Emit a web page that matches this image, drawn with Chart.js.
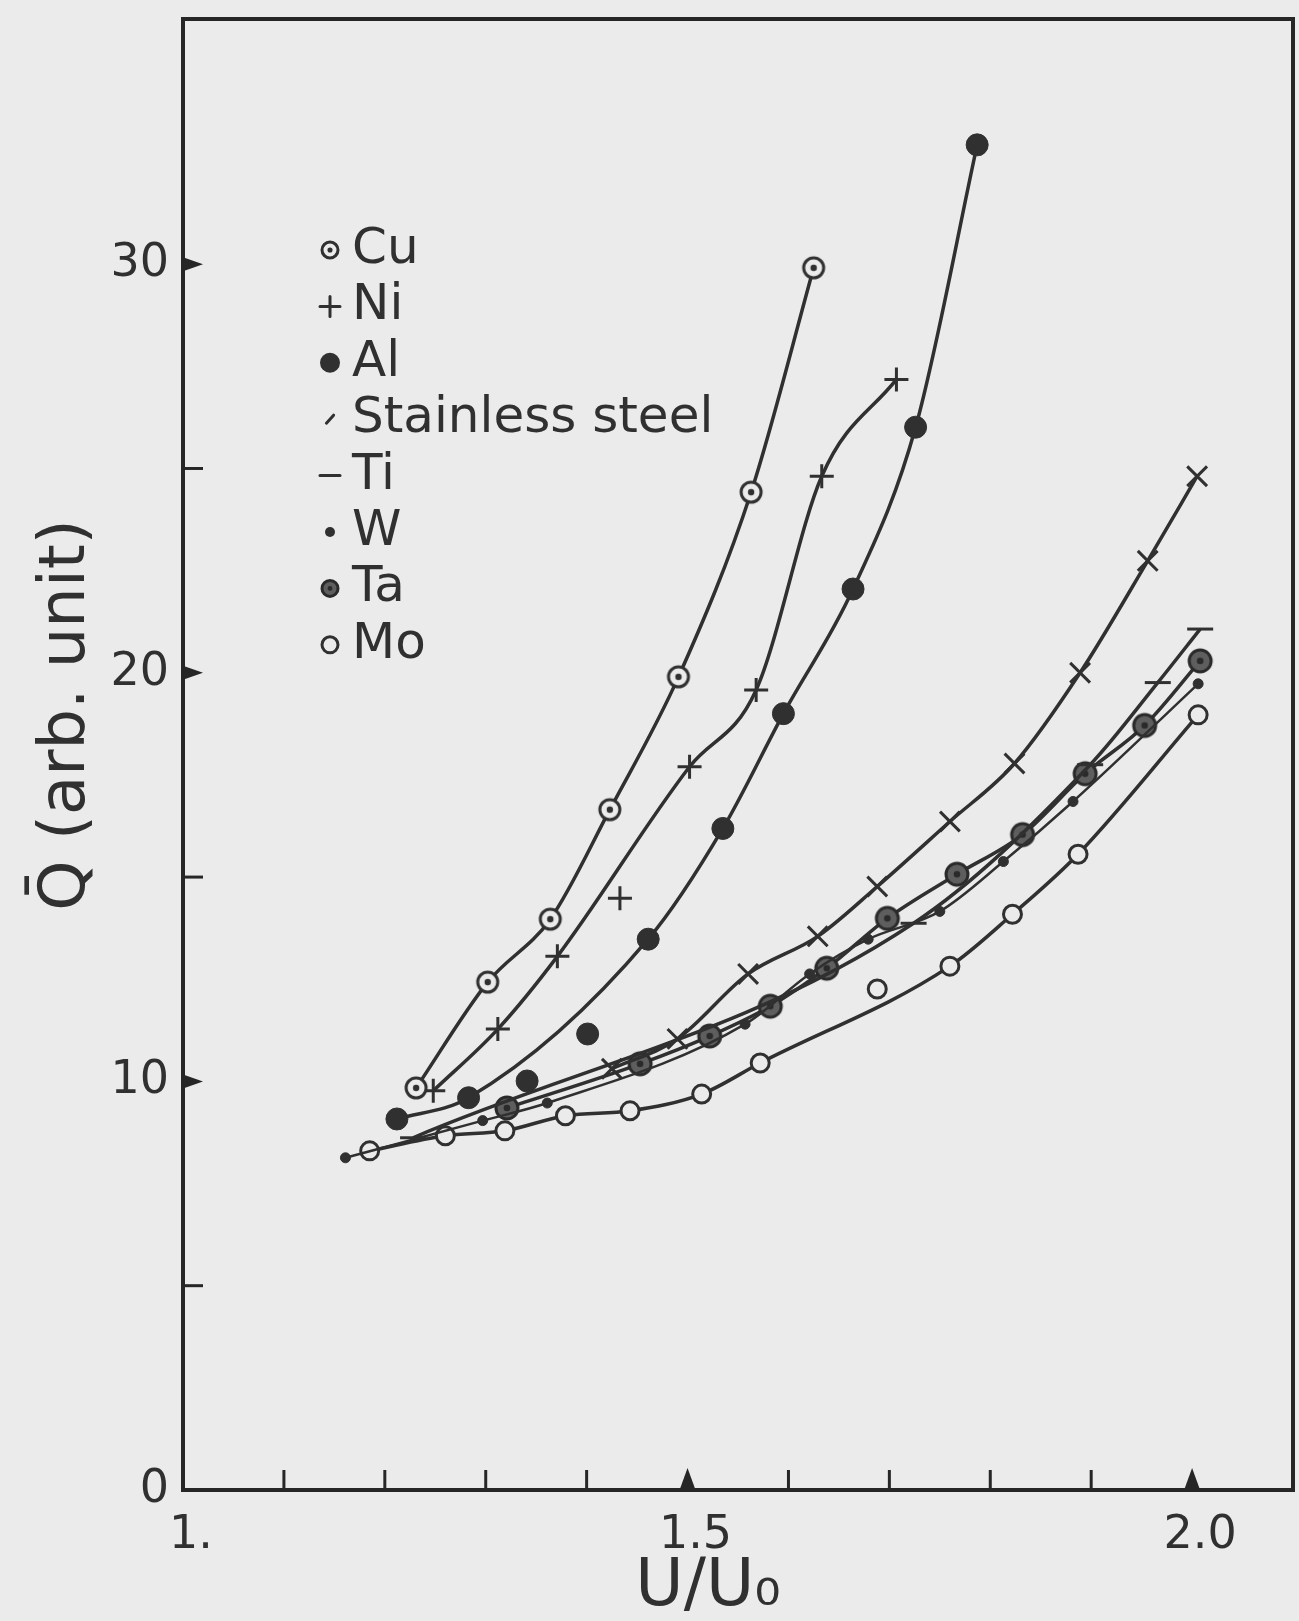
<!DOCTYPE html>
<html lang="en">
<head>
    <title>Q vs U/U0</title>
    <script src="https://cdn.jsdelivr.net/npm/chart.js"></script>
    <style>
        body { margin: 0; padding: 0; background: #ebebeb; overflow: hidden; }
        #wrap { width: 1299px; height: 1621px; }
        canvas { display: block; }
    </style>
</head>
<body>
<div id="wrap"><canvas id="qChart" width="1299" height="1621"></canvas></div>
<script>
    // values (x = U/U0, y = Q, arb. unit)
    const cuX = [1.231, 1.302, 1.364, 1.423, 1.491, 1.563, 1.625];
    const cuY = [9.84, 12.43, 13.97, 16.65, 19.90, 24.42, 29.91];

    const niX = [1.248, 1.312, 1.371, 1.502, 1.568, 1.633, 1.707];
    const niY = [9.77, 11.28, 13.06, 17.70, 19.58, 24.81, 27.18];
    const niOffX = [1.433];          // points left off the drawn curve
    const niOffY = [14.48];

    const alX = [1.212, 1.283, 1.461, 1.535, 1.595, 1.664, 1.726, 1.787];
    const alY = [9.08, 9.60, 13.48, 16.19, 19.00, 22.05, 26.01, 32.92];
    const alOffX = [1.341, 1.401];
    const alOffY = [10.01, 11.16];

    const ssX = [1.425, 1.490, 1.560, 1.629, 1.688, 1.760, 1.824, 1.889, 1.956, 2.005];
    const ssY = [10.31, 11.04, 12.63, 13.55, 14.77, 16.36, 17.78, 20.00, 22.74, 24.81];

    const tiX = [1.228, 1.724, 1.899, 1.966, 2.008];
    const tiY = [8.62, 13.87, 17.75, 19.76, 21.07];

    const wX = [1.161, 1.297, 1.361, 1.557, 1.621, 1.679, 1.750, 1.813, 1.882, 2.006];
    const wY = [8.13, 9.04, 9.47, 11.40, 12.63, 13.48, 14.16, 15.38, 16.85, 19.73];

    const taX = [1.321, 1.453, 1.522, 1.582, 1.638, 1.698, 1.767, 1.832, 1.894, 1.953, 2.008];
    const taY = [9.35, 10.43, 11.11, 11.84, 12.77, 13.99, 15.07, 16.04, 17.53, 18.71, 20.29];

    const moX = [1.185, 1.260, 1.319, 1.379, 1.443, 1.514, 1.572, 1.760, 1.822, 1.887, 2.006];
    const moY = [8.30, 8.67, 8.79, 9.16, 9.28, 9.69, 10.45, 12.82, 14.09, 15.56, 18.97];
    const moOffX = [1.688];
    const moOffY = [12.26];

    const xTickValues = [1.0, 1.5, 2.0];
    const xTickLabels = ["1.", "1.5", "2.0"];
    const xMinorTicks = [1.1, 1.2, 1.3, 1.4, 1.6, 1.7, 1.8, 1.9];
    const yTickValues = [0, 10, 20, 30];
    const yTickLabels = ["0", "10", "20", "30"];
    const yMinorTicks = [5, 15, 25];

    const legendNames = ["Cu", "Ni", "Al", "Stainless steel", "Ti", "W", "Ta", "Mo"];
    const legendMarks = ["cu", "ni", "al", "ss", "ti", "w", "ta", "mo"];

    const ink = "#303030";
    const paper = "#ebebeb";
    const font = "DejaVu Sans";

    function drawMark(g, kind, x, y, r) {
        g.save();
        g.strokeStyle = ink;
        g.fillStyle = ink;
        g.lineWidth = 3;
        g.lineCap = "round";
        g.beginPath();
        if (kind === "cu" || kind === "mo") {
            g.arc(x, y, r, 0, Math.PI * 2);
            g.fillStyle = paper;
            g.fill();
            g.stroke();
            if (kind === "cu") {
                g.beginPath();
                g.fillStyle = ink;
                g.arc(x, y, r * 0.32, 0, Math.PI * 2);
                g.fill();
            }
        } else if (kind === "ta") {
            g.arc(x, y, r, 0, Math.PI * 2);
            g.fillStyle = "#5e5e5e";
            g.fill();
            g.strokeStyle = "#2a2a2a";
            g.stroke();
            g.beginPath();
            g.fillStyle = "#2a2a2a";
            g.arc(x, y, r * 0.3, 0, Math.PI * 2);
            g.fill();
        } else if (kind === "al" || kind === "w") {
            g.arc(x, y, r, 0, Math.PI * 2);
            g.fill();
        } else if (kind === "ni") {
            g.moveTo(x - r, y); g.lineTo(x + r, y);
            g.moveTo(x, y - r); g.lineTo(x, y + r);
            g.stroke();
        } else if (kind === "ss") {
            g.moveTo(x - r * 0.45, y + r * 0.5); g.lineTo(x + r * 0.45, y - r * 0.5);
            g.stroke();
        } else if (kind === "ti") {
            g.moveTo(x - r, y); g.lineTo(x + r, y);
            g.stroke();
        }
        g.restore();
    }

    function makeMarker(kind, r) {
        const c = document.createElement("canvas");
        const s = Math.ceil(2 * r + 8);
        c.width = s;
        c.height = s;
        drawMark(c.getContext("2d"), kind, s / 2, s / 2, r);
        return c;
    }

    const cuMarker = makeMarker("cu", 10);
    const taMarker = makeMarker("ta", 11);

    const pts = (xs, ys) => xs.map((x, i) => ({ x: x, y: ys[i] }));

    function series(label, xs, ys, style, line) {
        return Object.assign({
            label: label,
            data: pts(xs, ys),
            showLine: line,
            borderColor: ink,
            backgroundColor: ink,
            borderWidth: 3.5,
            pointBorderWidth: 3,
            cubicInterpolationMode: "monotone",
            tension: 0.4
        }, style);
    }

    const cuStyle = { pointStyle: cuMarker, pointRadius: 10 };
    const niStyle = { pointStyle: "cross", pointRadius: 12 };
    const alStyle = { pointStyle: "circle", pointRadius: 11, pointBorderWidth: 1 };
    const ssStyle = { pointStyle: "crossRot", pointRadius: 14 };
    const tiStyle = { pointStyle: "line", pointRadius: 13 };
    const wStyle = { pointStyle: "circle", pointRadius: 5, pointBorderWidth: 1, borderWidth: 2.5 };
    const taStyle = { pointStyle: taMarker, pointRadius: 11 };
    const moStyle = { pointStyle: "circle", pointRadius: 9, pointBackgroundColor: paper };

    // frame, inside ticks, legend and axis titles
    const decor = {
        id: "decor",
        afterDraw(chart) {
            const g = chart.ctx;
            const a = chart.chartArea;
            const xs = chart.scales.x;
            const ys = chart.scales.y;
            g.save();
            g.strokeStyle = "#262626";
            g.fillStyle = "#262626";
            g.lineWidth = 4;
            g.strokeRect(a.left, a.top, a.right - a.left, a.bottom - a.top);

            g.lineWidth = 3;
            xMinorTicks.forEach(v => {
                const px = xs.getPixelForValue(v);
                g.beginPath();
                g.moveTo(px, a.bottom);
                g.lineTo(px, a.bottom - 20);
                g.stroke();
            });
            xTickValues.slice(1).forEach(v => {
                const px = xs.getPixelForValue(v);
                g.beginPath();
                g.moveTo(px - 8, a.bottom);
                g.lineTo(px, a.bottom - 22);
                g.lineTo(px + 8, a.bottom);
                g.closePath();
                g.fill();
            });
            yMinorTicks.forEach(v => {
                const py = ys.getPixelForValue(v);
                g.beginPath();
                g.moveTo(a.left, py);
                g.lineTo(a.left + 20, py);
                g.stroke();
            });
            yTickValues.slice(1).forEach(v => {
                const py = ys.getPixelForValue(v);
                g.beginPath();
                g.moveTo(a.left, py - 7);
                g.lineTo(a.left + 20, py);
                g.lineTo(a.left, py + 7);
                g.closePath();
                g.fill();
            });

            g.fillStyle = ink;
            g.textBaseline = "middle";
            g.textAlign = "left";
            g.font = "50px '" + font + "'";
            legendNames.forEach((name, i) => {
                const y = 250 + i * 56.4;
                const kind = legendMarks[i];
                const r = kind === "al" ? 10 : kind === "w" ? 5 : kind === "ni" || kind === "ti" ? 10 : 8;
                drawMark(g, kind, 330, y, r);
                g.fillStyle = ink;
                g.fillText(name, 352, y);
            });

            g.font = "66px '" + font + "'";
            g.textAlign = "center";
            g.fillText("U/U\u2080", 708, 1588);
            g.translate(67, 715);
            g.rotate(-Math.PI / 2);
            g.font = "64px '" + font + "'";
            g.fillText("Q\u0304 (arb. unit)", 0, 0);
            g.restore();
        }
    };

    const ctx = document.getElementById("qChart").getContext("2d");
    new Chart(ctx, {
        type: "scatter",
        data: {
            datasets: [
                series("Cu", cuX, cuY, cuStyle, true),
                series("Ni", niX, niY, niStyle, true),
                series("Ni (off curve)", niOffX, niOffY, niStyle, false),
                series("Al", alX, alY, alStyle, true),
                series("Al (off curve)", alOffX, alOffY, alStyle, false),
                series("Stainless steel", ssX, ssY, ssStyle, true),
                series("Ti", tiX, tiY, tiStyle, true),
                series("W", wX, wY, wStyle, true),
                series("Ta", taX, taY, taStyle, true),
                series("Mo", moX, moY, moStyle, true),
                series("Mo (off curve)", moOffX, moOffY, moStyle, false)
            ]
        },
        options: {
            responsive: false,
            animation: false,
            layout: { autoPadding: false, padding: { top: 19, right: 6, left: 0, bottom: 0 } },
            plugins: {
                legend: { display: false },
                tooltip: { enabled: false }
            },
            scales: {
                x: {
                    type: "linear",
                    min: 1.0,
                    max: 2.1,
                    grid: { display: false, drawTicks: false },
                    border: { display: false },
                    afterBuildTicks: s => { s.ticks = xTickValues.map(v => ({ value: v })); },
                    afterFit: s => {
                        s.height = 131;
                        s.paddingLeft = 0;
                        s.paddingRight = 0;
                    },
                    ticks: {
                        padding: 18,
                        labelOffset: 8,
                        color: ink,
                        font: { family: font, size: 46 },
                        callback: (v) => xTickLabels[xTickValues.indexOf(v)]
                    }
                },
                y: {
                    type: "linear",
                    min: 0,
                    max: 36,
                    grid: { display: false, drawTicks: false },
                    border: { display: false },
                    afterBuildTicks: s => { s.ticks = yTickValues.map(v => ({ value: v })); },
                    afterFit: s => {
                        s.width = 183;
                        s.paddingTop = 0;
                        s.paddingBottom = 0;
                    },
                    ticks: {
                        padding: 14,
                        color: ink,
                        font: { family: font, size: 46 },
                        callback: (v) => yTickLabels[yTickValues.indexOf(v)]
                    }
                }
            }
        },
        plugins: [decor]
    });
</script>
</body>
</html>
